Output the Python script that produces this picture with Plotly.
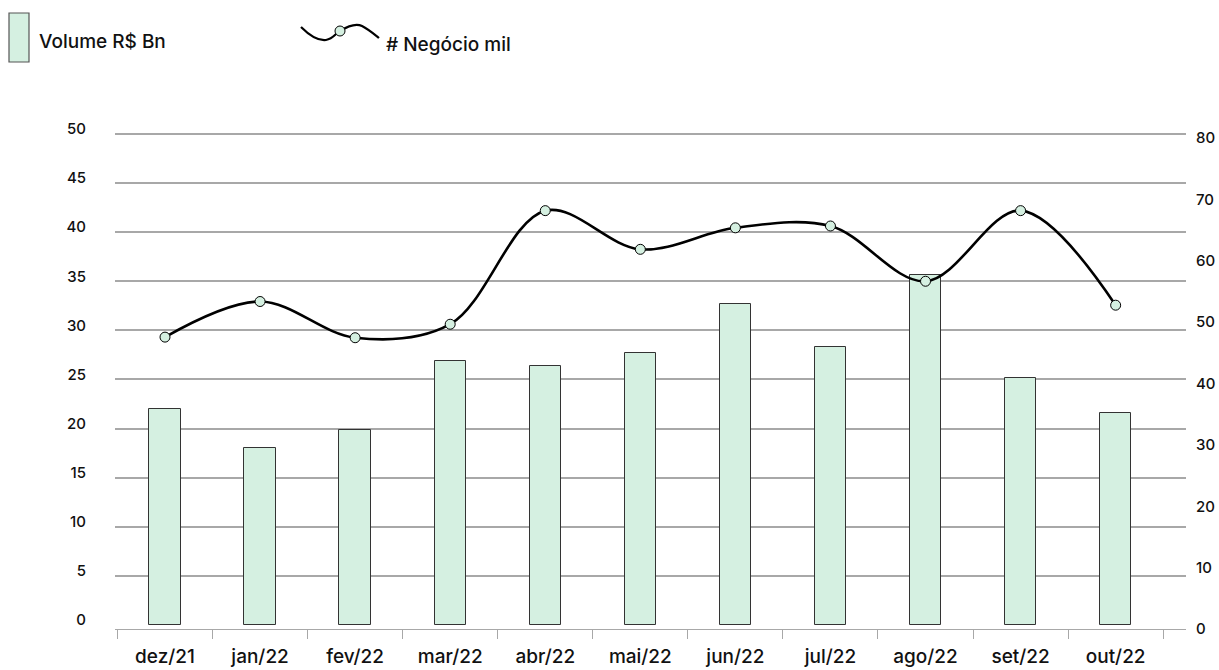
import plotly.graph_objects as go

# Monthly data
months = ["dez/21", "jan/22", "fev/22", "mar/22", "abr/22", "mai/22",
          "jun/22", "jul/22", "ago/22", "set/22", "out/22"]
volume_bn = [22.0, 18.0, 19.9, 26.9, 26.4, 27.7, 32.7, 28.3, 35.6, 25.2, 21.6]
negocios_mil = [46.9, 52.7, 46.8, 49.0, 67.5, 61.2, 64.7, 65.0, 56.0, 67.5, 52.1]

left_ticks = [0, 5, 10, 15, 20, 25, 30, 35, 40, 45, 50]
right_ticks = [0, 10, 20, 30, 40, 50, 60, 70, 80]

W, H = 1219, 670
ML, MR, MT, MB = 115, 33, 128, 41
FONT = "Inter"
MINT = "#d5f0e1"
GRID = "#a8a8a8"
INK = "#111111"

fig = go.Figure()

fig.add_trace(go.Bar(
    x=months, y=volume_bn, name="Volume R$ Bn",
    width=0.33, marker=dict(color=MINT, line=dict(color="#333333", width=1)),
    yaxis="y", showlegend=False,
))

fig.add_trace(go.Scatter(
    x=months, y=negocios_mil, name="# Negócio mil",
    mode="lines+markers", line=dict(color="black", width=2.6, shape="spline", smoothing=1.0),
    marker=dict(size=10, color=MINT, line=dict(color="black", width=1)),
    yaxis="y2", showlegend=False,
))

# pixel -> paper helpers for the hand-drawn legend
pw, ph = W - ML - MR, H - MT - MB
def px(x):
    return (x - ML) / pw
def py(y):
    return (H - MB - y) / ph

shapes = [
    dict(type="rect", xref="paper", yref="paper",
         x0=px(9), x1=px(29), y0=py(62), y1=py(13),
         fillcolor=MINT, line=dict(color="#555555", width=1.2)),
]
pts = [(301, 27), (310, 36), (318, 41), (326, 40), (333, 39), (336, 33), (340, 31),
       (348, 26), (356, 23), (362, 26), (368, 29), (374, 34), (379, 38)]
path = "M {:.5f},{:.5f}".format(px(pts[0][0]), py(pts[0][1]))
for i in range(1, len(pts), 3):
    seg = pts[i:i + 3]
    path += " C " + " ".join("{:.5f},{:.5f}".format(px(a), py(b)) for a, b in seg)
shapes.append(dict(type="path", xref="paper", yref="paper", path=path,
                   line=dict(color="black", width=2.2)))
shapes.append(dict(type="circle", xref="paper", yref="paper",
                   x0=px(335), x1=px(345), y0=py(36), y1=py(26),
                   fillcolor=MINT, line=dict(color="black", width=1)))

annotations = [
    dict(text="Volume R$ Bn", xref="paper", yref="paper", x=px(37), y=py(41),
         xanchor="left", yanchor="middle", showarrow=False,
         font=dict(family=FONT, size=19, weight=500, color=INK)),
    dict(text="# Negócio mil", xref="paper", yref="paper", x=px(384), y=py(44),
         xanchor="left", yanchor="middle", showarrow=False,
         font=dict(family=FONT, size=19, weight=500, color=INK)),
]

fig.update_layout(
    width=W, height=H,
    margin=dict(l=ML, r=MR, t=MT, b=MB, autoexpand=False),
    paper_bgcolor="white", plot_bgcolor="white",
    font=dict(family=FONT, color=INK),
    shapes=shapes, annotations=annotations,
    bargap=0.0,
    xaxis=dict(
        type="category", range=[-0.526, 10.74],
        showline=True, linecolor=GRID, linewidth=1,
        ticks="outside", ticklen=9, tickcolor=GRID, tickwidth=1,
        tickson="boundaries", showgrid=False,
        tickfont=dict(family=FONT, size=19, weight=500, color=INK),
        ticklabelstandoff=10,
    ),
    yaxis=dict(
        range=[-0.4, 50.6], tickvals=left_ticks,
        showgrid=True, gridcolor=GRID, gridwidth=1.5,
        zeroline=True, zerolinecolor="rgba(0,0,0,0)",
        showline=False, ticks="",
        tickfont=dict(family=FONT, size=15, weight=500, color=INK),
        ticklabelstandoff=28, ticklabelshift=-5,
    ),
    yaxis2=dict(
        range=[-0.64, 80.96], tickvals=right_ticks,
        overlaying="y", side="right",
        showgrid=False, zeroline=False, showline=False, ticks="",
        tickfont=dict(family=FONT, size=15, weight=500, color=INK),
        ticklabelstandoff=9, ticklabelshift=4,
    ),
)

fig.write_html("out.html")
